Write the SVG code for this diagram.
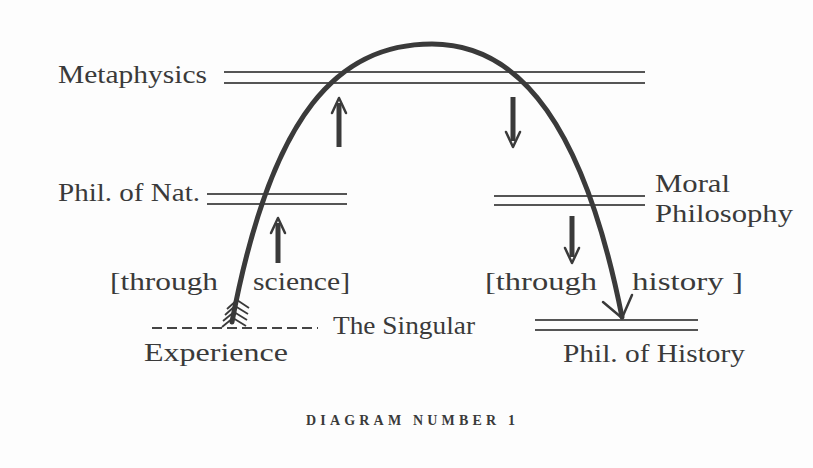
<svg xmlns="http://www.w3.org/2000/svg" width="813" height="468" viewBox="0 0 813 468">
<style>
.t{font-size:26px;fill:#3a3a3a}
.dl{stroke:#555;stroke-width:2;fill:none}
.arc{stroke:#3a3a3a;stroke-width:5;fill:none;stroke-linecap:round}
.sh{stroke:#3a3a3a;stroke-width:5;fill:none}
.hd{stroke:#3a3a3a;stroke-width:2.5;fill:none;stroke-linecap:round;stroke-linejoin:round}
.fl{stroke:#3a3a3a;stroke-width:1.8;fill:none}
.cap{font-size:14px;fill:#3a3a3a;font-weight:bold}
</style>
<rect width="813" height="468" fill="#fdfdfd"/>
<g font-family="'Liberation Serif', 'DejaVu Serif', serif">
<g id="metaphysics">
<text class="t" x="58" y="83" textLength="149" lengthAdjust="spacingAndGlyphs">Metaphysics</text>
<line class="dl" x1="224" y1="72" x2="645" y2="72"/>
<line class="dl" x1="224" y1="83" x2="645" y2="83"/>
</g>
<g id="phil-nat">
<text class="t" x="58" y="201" textLength="142" lengthAdjust="spacingAndGlyphs">Phil. of Nat.</text>
<line class="dl" x1="207" y1="194" x2="347" y2="194"/>
<line class="dl" x1="207" y1="204" x2="347" y2="204"/>
</g>
<g id="moral-philosophy">
<text class="t" x="655" y="192" textLength="75" lengthAdjust="spacingAndGlyphs">Moral</text>
<text class="t" x="655" y="222" textLength="138" lengthAdjust="spacingAndGlyphs">Philosophy</text>
<line class="dl" x1="494" y1="196" x2="645" y2="196"/>
<line class="dl" x1="494" y1="205" x2="645" y2="205"/>
</g>
<g id="singular">
<line x1="152" y1="328" x2="318" y2="328" stroke="#444" stroke-width="2" stroke-dasharray="10,5"/>
<text class="t" x="333" y="334" textLength="142" lengthAdjust="spacingAndGlyphs">The Singular</text>
<text class="t" x="144" y="361" textLength="144" lengthAdjust="spacingAndGlyphs">Experience</text>
</g>
<g id="phil-history">
<line class="dl" x1="535" y1="320" x2="698" y2="320"/>
<line class="dl" x1="535" y1="330" x2="698" y2="330"/>
<text class="t" x="563" y="362" textLength="182" lengthAdjust="spacingAndGlyphs">Phil. of History</text>
</g>
<g id="science-label">
<text class="t" x="110" y="290" textLength="108" lengthAdjust="spacingAndGlyphs">[through</text>
<text class="t" x="253" y="290" textLength="97" lengthAdjust="spacingAndGlyphs">science]</text>
</g>
<g id="history-label">
<text class="t" x="485" y="290" textLength="112" lengthAdjust="spacingAndGlyphs">[through</text>
<text class="t" x="632" y="290" textLength="111" lengthAdjust="spacingAndGlyphs">history ]</text>
</g>
<text class="cap" x="306" y="425" textLength="209" lengthAdjust="spacing">DIAGRAM NUMBER 1</text>
</g>
<g id="connectors">
<path class="arc" d="M232,322 C272,110 340,44 432,44 C522,44 585,130 622,317"/>
<path class="hd" d="M603,302 L622,318 L632,295" stroke-width="3"/>
<g class="fl">
<line x1="233" y1="318" x2="222" y2="327"/>
<line x1="234" y1="312" x2="223" y2="321"/>
<line x1="235" y1="306" x2="225" y2="315"/>
<line x1="237" y1="300" x2="227" y2="309"/>
<line x1="233" y1="318" x2="246" y2="326"/>
<line x1="234" y1="312" x2="247" y2="320"/>
<line x1="235" y1="306" x2="248" y2="314"/>
<line x1="237" y1="300" x2="249" y2="308"/>
</g>
<line class="sh" x1="339" y1="147" x2="339" y2="103"/>
<path class="hd" d="M332,113 L339,98 L346,113"/>
<line class="sh" x1="513" y1="97" x2="513" y2="141"/>
<path class="hd" d="M506,132 L513,147 L520,132"/>
<line class="sh" x1="278" y1="263" x2="278" y2="223"/>
<path class="hd" d="M271,233 L278,218 L285,233"/>
<line class="sh" x1="572" y1="216" x2="572" y2="257"/>
<path class="hd" d="M565,248 L572,263 L579,248"/>
</g>
</svg>
